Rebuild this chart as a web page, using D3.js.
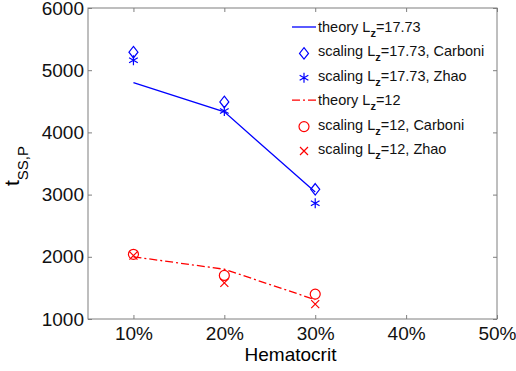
<!DOCTYPE html>
<html>
<head>
<meta charset="utf-8">
<script src="https://cdn.jsdelivr.net/npm/d3@7"></script>
<style>
  body { margin: 0; background: #fff; }
  svg { display: block; font-family: "Liberation Sans", Arial, sans-serif; }
</style>
</head>
<body>
<div id="chart"></div>
<script>
// values
const hematocrit = [0.1, 0.2, 0.3];
const theory1773 = [4800, 4330, 3040];
const carboni1773 = [5290, 4490, 3085];
const zhao1773 = [5160, 4345, 2860];
const theory12 = [2000, 1800, 1310];
const carboni12 = [2040, 1700, 1400];
const zhao12 = [2020, 1580, 1240];

const xTicks = [0.1, 0.2, 0.3, 0.4, 0.5];
const yTicks = [1000, 2000, 3000, 4000, 5000, 6000];

const width = 516, height = 371;
const margin = {top: 8, right: 19, bottom: 52, left: 88};

const svg = d3.select("#chart").append("svg")
  .attr("width", width)
  .attr("height", height);

const x = d3.scaleLinear().domain([0.05, 0.5]).range([margin.left, width - margin.right]);
const y = d3.scaleLinear().domain([1000, 6000]).range([height - margin.bottom, margin.top]);

const axisColor = "#7f7f7f";

// axes with inward ticks (matlab style box)
function styleAxis(g, showText) {
  g.select(".domain").remove();
  g.selectAll(".tick line").attr("stroke", axisColor);
  g.selectAll(".tick text")
    .attr("fill", "#111")
    .style("font-size", "19px")
    .style("display", showText ? null : "none");
}

svg.append("g")
  .attr("transform", `translate(0,${y(1000)})`)
  .call(d3.axisBottom(x).tickValues(xTicks).tickFormat(d3.format(".0%")).tickSizeInner(-4).tickSizeOuter(0).tickPadding(8))
  .call(g => styleAxis(g, true));

svg.append("g")
  .attr("transform", `translate(0,${y(6000)})`)
  .call(d3.axisTop(x).tickValues(xTicks).tickSizeInner(-4).tickSizeOuter(0))
  .call(g => styleAxis(g, false));

svg.append("g")
  .attr("transform", `translate(${x(0.05)},0)`)
  .call(d3.axisLeft(y).tickValues(yTicks).tickFormat(d3.format("d")).tickSizeInner(-4).tickSizeOuter(0).tickPadding(4))
  .call(g => styleAxis(g, true));

svg.append("g")
  .attr("transform", `translate(${x(0.5)},0)`)
  .call(d3.axisRight(y).tickValues(yTicks).tickSizeInner(-4).tickSizeOuter(0))
  .call(g => styleAxis(g, false));

svg.append("rect")
  .attr("x", x(0.05)).attr("y", y(6000))
  .attr("width", x(0.5) - x(0.05)).attr("height", y(1000) - y(6000))
  .attr("fill", "none").attr("stroke", axisColor).attr("stroke-width", 1);

// axis labels
svg.append("text")
  .attr("x", (x(0.05) + x(0.5)) / 2 - 2)
  .attr("y", 361)
  .attr("text-anchor", "middle")
  .style("font-size", "19px")
  .text("Hematocrit");

const ylab = svg.append("text")
  .attr("transform", "translate(19,166) rotate(-90)")
  .attr("text-anchor", "middle")
  .style("font-size", "21px");
ylab.append("tspan").text("t");
ylab.append("tspan").attr("dy", 9).style("font-size", "15px").text("SS,P");

// marker shapes
const markers = {
  diamond: (s) => `M0,${-s * 1.15}L${s * 0.9},0L0,${s * 1.15}L${-s * 0.9},0Z`,
  star: (s) => {
    const a = s * 0.87, b = s * 0.5;
    return `M0,${-s}L0,${s}M${-a},${-b}L${a},${b}M${-a},${b}L${a},${-b}`;
  },
  circle: (s) => `M${s},0A${s},${s} 0 1,1 ${-s},0A${s},${s} 0 1,1 ${s},0`,
  cross: (s) => `M${-s},${-s}L${s},${s}M${-s},${s}L${s},${-s}`
};

const lines = [
  {name: "theory", lz: "17.73", suffix: "", values: theory1773, color: "#0000ff", dash: null},
  {name: "scaling", lz: "17.73", suffix: ", Carboni", values: carboni1773, color: "#0000ff", marker: "diamond", size: 5},
  {name: "scaling", lz: "17.73", suffix: ", Zhao", values: zhao1773, color: "#0000ff", marker: "star", size: 5},
  {name: "theory", lz: "12", suffix: "", values: theory12, color: "#ff0000", dash: "8,3,2,3"},
  {name: "scaling", lz: "12", suffix: ", Carboni", values: carboni12, color: "#ff0000", marker: "circle", size: 5},
  {name: "scaling", lz: "12", suffix: ", Zhao", values: zhao12, color: "#ff0000", marker: "cross", size: 4}
];

const line = d3.line()
  .x((d, i) => x(hematocrit[i]))
  .y(d => y(d));

lines.forEach(s => {
  if (!s.marker) {
    svg.append("path")
      .datum(s.values)
      .attr("d", line)
      .attr("fill", "none")
      .attr("stroke", s.color)
      .attr("stroke-width", 1.3)
      .attr("stroke-dasharray", s.dash);
  } else {
    svg.selectAll(null)
      .data(s.values)
      .join("path")
      .attr("transform", (d, i) => `translate(${x(hematocrit[i])},${y(d)})`)
      .attr("d", markers[s.marker](s.size))
      .attr("fill", "none")
      .attr("stroke", s.color)
      .attr("stroke-width", 1.2);
  }
});

// legend
const legend = svg.append("g");
const rowY0 = 27, rowStep = 24.4;

lines.forEach((s, i) => {
  const ry = rowY0 + i * rowStep;
  if (!s.marker) {
    legend.append("line")
      .attr("x1", 292).attr("x2", 316)
      .attr("y1", ry).attr("y2", ry)
      .attr("stroke", s.color)
      .attr("stroke-width", 1.3)
      .attr("stroke-dasharray", s.dash);
  } else {
    legend.append("path")
      .attr("transform", `translate(304,${ry + 2})`)
      .attr("d", markers[s.marker](s.size))
      .attr("fill", "none")
      .attr("stroke", s.color)
      .attr("stroke-width", 1.2);
  }
  const t = legend.append("text")
    .attr("x", 318)
    .attr("y", ry + 5)
    .style("font-size", "14.5px")
    .attr("fill", "#111");
  t.append("tspan").text(s.name + " L");
  t.append("tspan").attr("dy", 5).style("font-size", "11px").style("font-weight", "bold").text("z");
  t.append("tspan").attr("dy", -5).text("=" + s.lz + s.suffix);
});
</script>
</body>
</html>
